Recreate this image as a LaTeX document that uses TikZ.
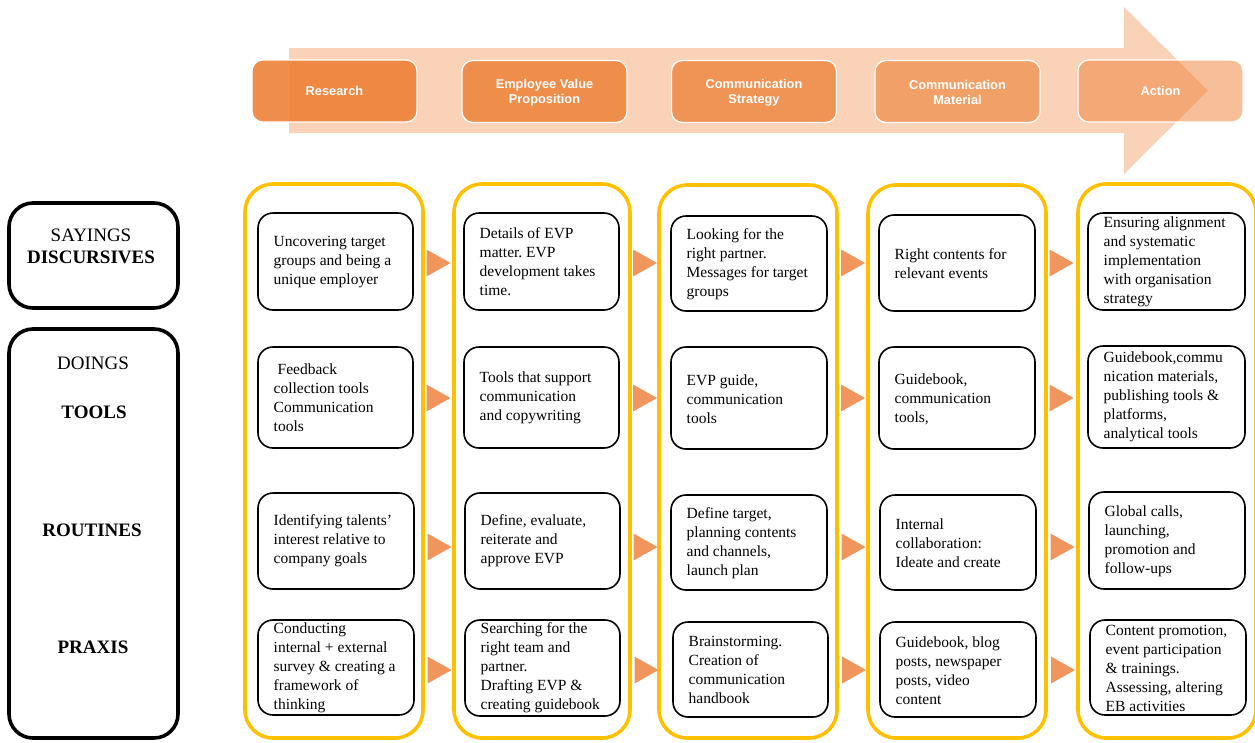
\documentclass[tikz,border=0pt]{standalone}
\usepackage{fontspec}
\setmainfont{Liberation Serif}
\newfontfamily\headfont{Liberation Sans}
\usetikzlibrary{calc}
\frenchspacing

\definecolor{peach}{HTML}{F9D2B7}
\definecolor{office}{HTML}{ED7D31}
\definecolor{gold}{HTML}{FFC000}
\definecolor{flowtri}{HTML}{F0955C}

% one framed cell: name, x1, y1, x2, y2, text centre y, text
\newcommand\mkcell[7]{%
  \node[cellbox, minimum width={#4-#2}, minimum height={#5-#3}] (#1) at ({(#2+#4)/2},{(#3+#5)/2}) {};
  \node[celltext] (#1t) at ({#2+15.5},#6) {#7};%
}

\begin{document}
\begin{tikzpicture}[x=1pt,y=-1pt,
  stage/.style={draw=white, line width=1.2pt, rounded corners=11pt, fill=office,
    minimum width=165pt, minimum height=62pt, align=center, text=white, text opacity=1,
    font=\headfont\bfseries\fontsize{12.8}{15}\selectfont},
  column/.style={draw=gold, line width=3.6pt, rounded corners=28pt},
  sidebox/.style={draw=black, line width=3.6pt, rounded corners=24pt},
  cellbox/.style={draw=black, line width=1.6pt, rounded corners=15pt, fill=white, inner sep=0pt},
  celltext/.style={anchor=west, align=left, inner sep=0pt, font=\fontsize{15.5}{19}\selectfont},
  sidelabel/.style={inner sep=0pt, font=\fontsize{19}{22}\selectfont},
  flow/.style={fill=flowtri}
]
\useasboundingbox (0,0) rectangle (1255,742);

% process arrow in the background
\fill[peach] (289,48) -- (1124,48) -- (1124,7) -- (1208,90.5) -- (1124,174) -- (1124,133) -- (289,133) -- cycle;

% stages
\node[stage, fill opacity=0.87] (h1) at (334.5,91) {Research};
\node[stage, fill opacity=0.80] (h2) at (544.5,91.5) {\rule{0pt}{11pt}Employee Value\\Proposition};
\node[stage, fill opacity=0.73] (h3) at (754,91.5) {\rule{0pt}{11pt}Communication\\Strategy};
\node[stage, fill opacity=0.59] (h4) at (957.5,91.5) {\rule{0pt}{11pt}Communication\\Material};
\node[stage, fill opacity=0.49] (h5) at (1160.5,91) {Action};

% side frames with their labels
\draw[sidebox] (9,203) rectangle (178,308);
\draw[sidebox] (9,329) rectangle (178,738);
\node[sidelabel] (sayings) at (91,235) {SAYINGS};
\node[sidelabel] (discursives) at (91,257) {\textbf{DISCURSIVES}};
\node[sidelabel] (doings) at (93,363) {DOINGS};
\node[sidelabel] (tools) at (94,412) {\textbf{TOOLS}};
\node[sidelabel] (routines) at (92,530) {\textbf{ROUTINES}};
\node[sidelabel] (praxis) at (93,647) {\textbf{PRAXIS}};

% stage columns
\draw[column] (245,184) rectangle (423,738);
\draw[column] (454,184) rectangle (630,738);
\draw[column] (659,185) rectangle (837,738);
\draw[column] (868,185) rectangle (1046,738);
\draw[column] (1078,184) rectangle (1256,738);

% column 1
\mkcell{c1-1}{258}{213}{413}{310}{262}{Uncovering target\\groups and being a\\unique employer}
\mkcell{c1-2}{258}{347}{413}{448}{397.5}{\hspace{4pt}Feedback\\collection tools\\Communication\\tools}
\mkcell{c1-3}{258}{493}{414}{589}{541}{Identifying talents’\\interest relative to\\company goals}
\mkcell{c1-4}{258}{620}{414}{715}{668}{Conducting\\internal + external\\survey \& creating a\\framework of\\thinking}

% column 2
\mkcell{c2-1}{464}{213}{619}{310}{262}{Details of EVP\\matter. EVP\\development takes\\time.}
\mkcell{c2-2}{464}{347}{619}{448}{398}{Tools that support\\communication\\and copywriting}
\mkcell{c2-3}{465}{493}{620}{589}{541}{Define, evaluate,\\reiterate and\\approve EVP}
\mkcell{c2-4}{465}{620}{620}{716}{668}{Searching for the\\right team and\\partner.\\Drafting EVP \&\\creating guidebook}

% column 3
\mkcell{c3-1}{671}{216}{827}{311}{264}{Looking for the\\right partner.\\Messages for target\\groups}
\mkcell{c3-2}{671}{347}{827}{449}{399}{EVP guide,\\communication\\tools}
\mkcell{c3-3}{671}{495}{827}{590}{543.5}{Define target,\\planning contents\\and channels,\\launch plan}
\mkcell{c3-4}{673}{622}{828}{717}{670}{Brainstorming.\\Creation of\\communication\\handbook}

% column 4
\mkcell{c4-1}{879}{215}{1035}{311}{263.5}{Right contents for\\relevant events}
\mkcell{c4-2}{879}{347}{1035}{449}{399}{Guidebook,\\communication\\tools,}
\mkcell{c4-3}{880}{495}{1036}{590}{543}{Internal\\collaboration:\\Ideate and create}
\mkcell{c4-4}{880}{622}{1036}{717}{670.5}{Guidebook, blog\\posts, newspaper\\posts, video\\content}

% column 5
\mkcell{c5-1}{1088}{213}{1245}{310}{262}{Ensuring alignment\\and systematic\\implementation\\with organisation\\strategy}
\mkcell{c5-2}{1088}{346}{1245}{448}{397}{Guidebook,commu\\nication materials,\\publishing tools \&\\platforms,\\analytical tools}
\mkcell{c5-3}{1089}{492}{1245}{589}{541}{Global calls,\\launching,\\promotion and\\follow-ups}
\mkcell{c5-4}{1090}{620}{1246}{715}{668}{Content promotion,\\event participation\\\& trainings.\\Assessing, altering\\EB activities}

% flow markers between neighbouring cells
\foreach \r/\ty in {1/263,2/398,3/547,4/670}{
  \foreach \a/\b in {1/2,2/3,3/4,4/5}{
    \coordinate (ty) at (0,\ty);
    \coordinate (m) at ($(c\a-\r.east)!0.5!(c\b-\r.west)$);
    \fill[flow] ($(m |- ty)+(-12,-13.5)$) -- ++(24,13.5) -- ++(-24,13.5) -- cycle;
  }
}
\end{tikzpicture}
\end{document}
